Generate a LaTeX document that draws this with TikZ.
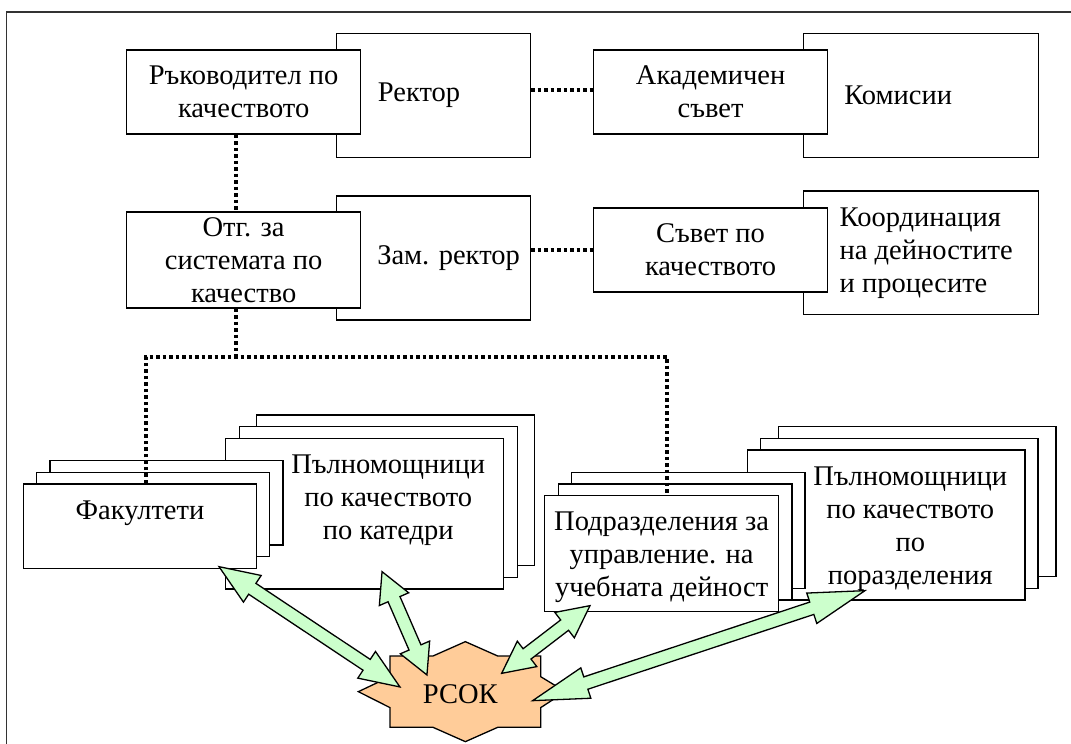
\documentclass[tikz,border=0pt]{standalone}
\usepackage{fontspec}
\setmainfont{Liberation Serif}
\usetikzlibrary{calc,positioning,shadows}

\definecolor{arrowgreen}{HTML}{CCFFCC}
\definecolor{starorange}{HTML}{FFCC99}

% double block arrow between two coordinates, #1 = head length
\newcommand{\dblarrow}[3][38]{%
  \coordinate (ha) at ($(#2)!#1pt!(#3)$);
  \coordinate (hb) at ($(#3)!#1pt!(#2)$);
  \draw[greenarrow] (#2) -- ($(ha)!16pt!90:(#3)$) -- ($(ha)!6.5pt!90:(#3)$)
    -- ($(hb)!6.5pt!-90:(#2)$) -- ($(hb)!16pt!-90:(#2)$) -- (#3)
    -- ($(hb)!16pt!90:(#2)$) -- ($(hb)!6.5pt!90:(#2)$)
    -- ($(ha)!6.5pt!-90:(#3)$) -- ($(ha)!16pt!-90:(#3)$) -- cycle;}

\tikzset{
  box/.style={draw, fill=white, line width=1.3pt, inner sep=0pt},
  txt/.style={inner sep=0pt, align=center},
  ltxt/.style={inner sep=0pt, align=left, anchor=west},
  stack/.style 2 args={box,
    copy shadow={shadow xshift=#2, shadow yshift=23.4pt, draw=black, fill=white, line width=1.3pt},
    copy shadow={shadow xshift=#1, shadow yshift=11.7pt, draw=black, fill=white, line width=1.3pt}},
  dots/.style={line width=4pt, dash pattern=on 3.5pt off 3pt},
  greenarrow/.style={draw=black, fill=arrowgreen, line width=1.3pt, line join=miter},
  starshape/.style={draw=black, fill=starorange, line width=1.3pt}
}

\begin{document}
\begin{tikzpicture}[x=1pt, y=-1pt, font=\fontsize{28.5}{33}\selectfont]
\useasboundingbox (0,0) rectangle (1071,744);
% frame
\draw[line width=1.8pt, black!80] (6.5,744) -- (6.5,12) -- (1071,12);

% back boxes
\node[box, minimum width=193.9pt, minimum height=124pt] (rector) at (433.45,95.3) {};
\node[box, minimum width=235pt, minimum height=124pt] (komisii) at (920.7,95.3) {};
\node[box, minimum width=193.9pt, minimum height=124pt] (zam) at (433.45,258) {};
\node[box, minimum width=235pt, minimum height=123.7pt] (koord) at (920.7,252.85) {};
% front boxes
\node[box, txt, minimum width=233.9pt, minimum height=84pt] (ruk) at (243.65,92) {Ръководител по\\качеството};
\node[box, txt, minimum width=233.6pt, minimum height=84pt] (akad) at (710.6,92) {Академичен\\съвет};
\node[box, txt, minimum width=233.9pt, minimum height=96pt] (otg) at (243.65,260) {Отг. за\\системата по\\качество};
\node[box, txt, minimum width=233.6pt, minimum height=84pt] (savet) at (710.6,250) {Съвет по\\качеството};
% texts of the back boxes
\node[ltxt] (rectort) at ($(ruk.east |- rector.center)+(16.5,0)$) {Ректор};
\node[ltxt] (komisiit) at ($(akad.east |- komisii.center)+(16,0)$) {Комисии};
\node[ltxt] (zamt) at ($(otg.east |- zam.center)+(15.8,0)$) {Зам. ректор};
\node[ltxt] (koordt) at ($(savet.east |- koord.center)+(11.4,0)$) {Координация\\на дейностите\\и процесите};

% stacks
\node[stack={13pt}{31pt}, minimum width=277.7pt, minimum height=150pt] (pp) at (886.25,525) {};
\node[stack={13.5pt}{26.6pt}, minimum width=233.6pt, minimum height=116pt] (pod) at (661.6,553.7) {};
\node[stack={14pt}{31pt}, minimum width=277.9pt, minimum height=150.7pt] (pk) at (364.55,513.65) {};
\node[stack={13pt}{26.5pt}, minimum width=233.2pt, minimum height=84.3pt] (fak) at (140,526.15) {};
\node[txt, below=17pt of fak.north] (fakt) {Факултети};
\node[txt, below=17pt of pk.north, xshift=23.7pt] (pkt) {Пълномощници\\по качеството\\по катедри};
\node[txt, below=17pt of pod.north] (podt) {Подразделения за\\управление. на\\учебната дейност};
\node[txt, below=17pt of pp.north, xshift=24pt] (ppt) {Пълномощници\\по качеството\\по\\поразделения};

% dotted links
\coordinate (bus) at ($(otg.south)+(-7.75,48)$);
\draw[dots] ($(ruk.south)+(-7.75,0)$) -- ($(otg.north)+(-7.75,0)$);
\draw[dots] ($(otg.south)+(-7.75,0)$) -- (bus);
\draw[dots] ($(fak.north)+(6.4,0)$) |- (bus) -| ($(pod.north)+(5.7,0)$);
\draw[dots] (rector.east |- 0,90) -- (akad.west |- 0,90);
\draw[dots] (zam.east |- savet.west) -- (savet.west);

% star
\coordinate (sc) at (465.35,691.65);
\begin{scope}[shift={(sc)}]
\draw[starshape] (0,-50) -- (32.5,-35.6) -- (75.3,-35.6) -- (75.3,-15) -- (100,0)
  -- (75.3,16) -- (75.3,35.6) -- (32.5,35.6) -- (0,50) -- (-32.5,35.6)
  -- (-75.3,35.6) -- (-75.3,16) -- (-107,0) -- (-75.3,-15) -- (-75.3,-35.6)
  -- (-32.5,-35.6) -- cycle;
\end{scope}
\node[txt] (rsok) at ($(sc)+(-5,3)$) {РСОК};

% arrows
\coordinate (a1) at ($(fak.south)+(79,-2.3)$);
\coordinate (b1) at ($(sc)+(-65.4,-4.7)$);
\coordinate (a2) at ($(pk.south)+(17.5,-18)$);
\coordinate (b2) at ($(sc)+(-38.4,-16.7)$);
\coordinate (a3) at ($(pod.south)+(-71.6,-6.7)$);
\coordinate (b3) at ($(sc)+(36.3,-18.3)$);
\coordinate (a4) at ($(pp.south)+(-21.3,-10)$);
\coordinate (b4) at ($(sc)+(67.3,9)$);
\dblarrow[40]{a1}{b1}
\dblarrow[30]{a2}{b2}
\dblarrow[32]{a3}{b3}
\dblarrow[56]{a4}{b4}
\end{tikzpicture}
\end{document}
